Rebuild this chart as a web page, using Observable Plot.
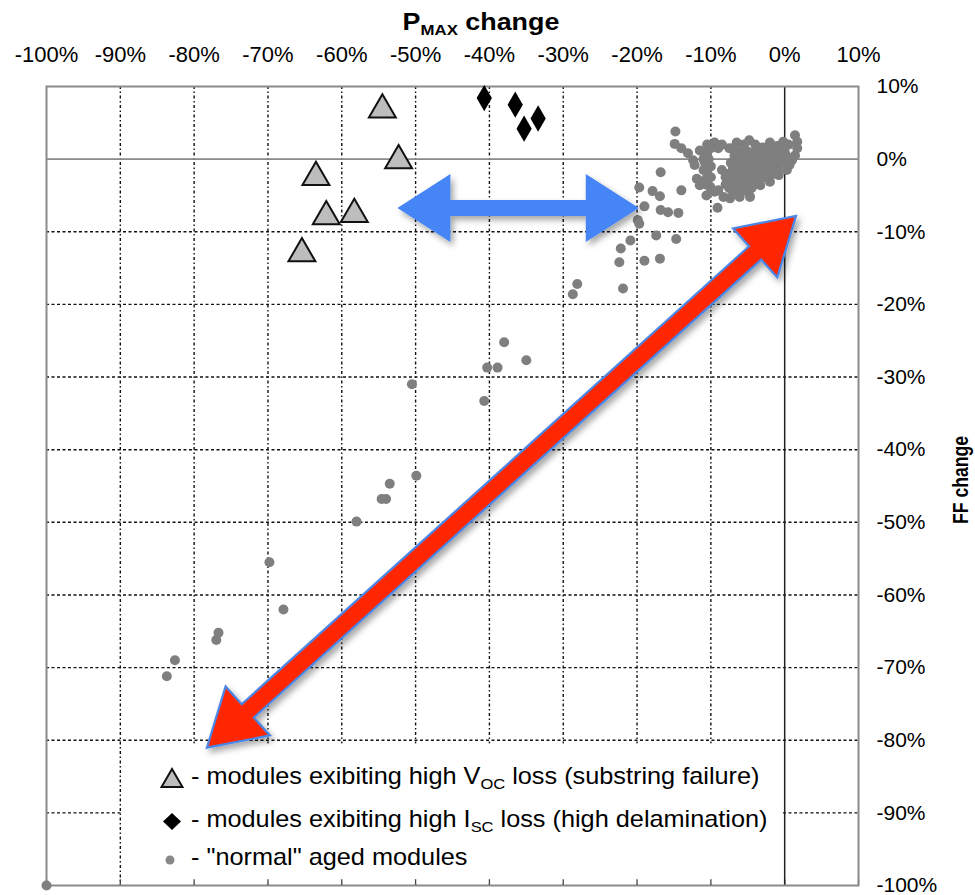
<!DOCTYPE html>
<html><head><meta charset="utf-8">
<script src="https://cdn.jsdelivr.net/npm/d3@7"></script>
<script src="https://cdn.jsdelivr.net/npm/@observablehq/plot@0.6"></script>
<style>
body{margin:0;background:#fff;}
svg{display:block;}
</style>
</head><body><div id="chart"></div>
<script>
// ---- data ----
const xTicks = [-100, -90, -80, -70, -60, -50, -40, -30, -20, -10, 0, 10];
const yTicks = [-100, -90, -80, -70, -60, -50, -40, -30, -20, -10, 0, 10];

// modules exhibiting high Voc loss (substring failure): [Pmax change %, FF change %]
const substringFailure = [[-54.5, 6.8], [-52.3, -0.2], [-63.5, -2.5], [-62.1, -7.9], [-58.3, -7.6], [-65.4, -13.0]];

// modules exhibiting high Isc loss (high delamination)
const delamination = [[-40.7, 8.4], [-36.5, 7.5], [-33.4, 5.6], [-35.3, 4.2]];

// "normal" aged modules
const normalModules = [
  [-100, -100],
  [-83.7, -71.2], [-82.6, -69.0], [-77.0, -66.2], [-76.7, -65.2], [-69.8, -55.5], [-67.9, -62.0],
  [-58.0, -49.9], [-54.6, -46.8], [-54.0, -46.8], [-53.5, -44.7], [-49.9, -43.6],
  [-50.5, -31.0], [-40.7, -33.3], [-40.3, -28.7], [-38.9, -28.7], [-38.0, -25.2], [-35.0, -27.7],
  [-28.7, -18.6], [-28.1, -17.2],
  [-22.4, -14.2], [-22.2, -12.3], [-21.9, -17.8], [-20.9, -11.2], [-19.9, -8.4], [-19.7, -8.9],
  [-19.7, -3.9], [-19.0, -6.5], [-19.0, -14.0],
  [-17.9, -4.4], [-17.4, -10.5], [-16.9, -5.1], [-16.9, -13.7], [-16.8, -7.0], [-16.8, -1.8],
  [-15.8, -7.3], [-14.4, -7.4], [-14.7, -11.0], [-14.0, -4.3], [-14.8, 3.8],
  [-14.9, 2.1], [-14.0, 1.5], [-13.1, 0.8], [-12.4, -0.15], [-12.2, -0.8],
  [-11.9, -2.7], [-11.5, -3.6], [-10.6, -5.0], [-10.1, -3.8], [-9.0, -4.3], [-8.3, -5.2],
  [-7.4, -5.4], [-6.1, -5.2], [-4.7, -5.2], [-3.3, -3.6], [-2.0, -3.1], [-0.8, -2.2], [0.3, -1.5], [-9.1, -6.7],
  [1.4, 3.3], [1.7, 2.4], [1.7, 1.5], [1.4, 0.5], [1.0, -0.15], [0.65, -0.8],
  [-11.5, 1.2], [-10.5, 2.0], [-9.5, 2.3], [-8.5, 2.0], [-7.5, 1.5], [-6.5, 2.3], [-5.5, 2.0],
  [-4.8, 2.6], [-4.0, 2.0], [-3.0, 1.6], [-2.0, 2.3], [-1.0, 1.8], [-0.2, 2.4], [0.5, 2.0],
  [-10.5, 1.0], [-6.0, 1.0], [-5.0, 1.0], [-4.0, 1.0], [-3.0, 1.0], [-2.0, 1.0], [-1.0, 1.0], [0.0, 1.0],
  [-11.0, 0.0], [-10.3, 0.0], [-6.5, 0.0], [-5.5, 0.0], [-4.5, 0.0], [-3.5, 0.0], [-2.5, 0.0],
  [-1.5, 0.0], [-0.5, 0.0], [0.3, 0.0],
  [-10.0, -1.0], [-7.0, -1.0], [-6.0, -1.0], [-5.0, -1.0], [-4.0, -1.0], [-3.0, -1.0], [-2.0, -1.0], [-1.0, -1.0],
  [-10.5, -2.0], [-7.5, -2.0], [-6.5, -2.0], [-5.5, -2.0], [-4.5, -2.0], [-3.5, -2.0], [-2.5, -2.0], [-1.5, -2.0],
  [-11.0, -3.0], [-7.0, -3.0], [-6.0, -3.0], [-5.0, -3.0], [-4.0, -3.0],
  [-10.0, -4.0], [-7.5, -4.0], [-6.5, -4.0], [-5.5, -4.0], [-4.5, -4.0],
  [-10.0, 1.5], [-9.0, 1.5], [-7.0, 1.5], [-5.5, 1.5], [-3.5, 1.5], [-2.5, 1.5], [-1.5, 1.5], [-0.5, 1.5],
  [-10.8, 0.5], [-6.8, 0.5], [-5.8, 0.5], [-4.8, 0.5], [-3.8, 0.5], [-2.8, 0.5], [-1.8, 0.5], [-0.8, 0.5], [0.2, 0.5],
  [-10.8, -0.5], [-7.3, -0.5], [-6.3, -0.5], [-5.3, -0.5], [-4.3, -0.5], [-3.3, -0.5], [-2.3, -0.5], [-1.3, -0.5], [-0.3, -0.5],
  [-11.0, -1.5], [-8.5, -1.5], [-7.0, -1.5], [-6.0, -1.5], [-5.0, -1.5], [-4.0, -1.5], [-3.0, -1.5], [-2.0, -1.5], [-1.0, -1.5],
  [-10.0, -2.5], [-8.0, -2.5], [-6.8, -2.5], [-5.8, -2.5], [-4.8, -2.5], [-3.8, -2.5], [-2.8, -2.5],
  [-10.7, -3.5], [-8.0, -3.5], [-7.0, -3.5], [-6.0, -3.5], [-5.0, -3.5], [-4.0, -3.5],
  [-9.5, -4.5], [-7.0, -4.5], [-6.0, -4.5], [-5.0, -4.5]
];

// annotation arrows (double headed), endpoints in data units
const arrowFrom = [[-52.4, -6.8], [-78.2, -81.1]];
const arrowTo = [[-19.7, -6.8], [1.6, -7.9]];

// ---- chart ----
const FONT = "'Liberation Sans', Arial, sans-serif";
const fmt = d => d + "%";
const plot = Plot.plot({
  width: 975,
  height: 895,
  marginTop: 86,
  marginLeft: 46,
  marginRight: 117,
  marginBottom: 10,
  style: {fontFamily: FONT, fontSize: "21px", color: "#000", background: "#fff"},
  x: {domain: [-100, 10], axis: "top", ticks: xTicks, tickFormat: fmt, tickSize: 0, tickPadding: 25, label: null},
  y: {domain: [-100, 10], axis: "right", ticks: yTicks, tickFormat: fmt, tickSize: 0, tickPadding: 18, label: null},
  marks: [
    Plot.ruleX(xTicks.filter(d => d > -100 && d < 10 && d !== 0), {stroke: "#111", strokeWidth: 1.4, strokeDasharray: "3,2.5,1.5,2.5"}),
    Plot.ruleY(yTicks.filter(d => d > -100 && d < 10 && d !== 0), {stroke: "#111", strokeWidth: 1.4, strokeDasharray: "3,2.5"}),
    Plot.rect([0], {x1: -89.7, x2: -0.3, y1: -80.5, y2: -99.8, fill: "#fff"}),
    Plot.ruleX(xTicks, {y1: -100, y2: -99.2, stroke: "#444", strokeWidth: 1.3}),
    Plot.ruleY([0], {stroke: "#8a8a8a", strokeWidth: 1.6}),
    Plot.ruleX([0], {stroke: "#222", strokeWidth: 1.5}),
    Plot.frame({stroke: "#8a8a8a", strokeWidth: 2}),
    Plot.dot(normalModules, {x: d => d[0], y: d => d[1], r: 5, fill: "#7f7f7f"}),
    Plot.dot(substringFailure, {x: d => d[0], y: d => d[1], symbol: "triangle", r: 10, fill: "#bdbdbd", stroke: "#111", strokeWidth: 2}),
    Plot.dot(delamination, {x: d => d[0], y: d => d[1], symbol: "diamond", r: 8, fill: "#000"})
  ]
});

const root = plot.tagName.toLowerCase() === "svg" ? plot : plot.querySelector("svg");
const svg = d3.select(root);
svg.selectAll("[aria-label='x-axis tick label'] text, g[aria-label='x-axis'] text").attr("font-size", 22);
const sx = plot.scale("x"), sy = plot.scale("y");

// drop shadow
const defs = svg.append("defs");
const f = defs.append("filter").attr("id", "shadow").attr("x", "-20%").attr("y", "-20%").attr("width", "140%").attr("height", "140%");
f.append("feDropShadow").attr("dx", 3).attr("dy", 4).attr("stdDeviation", 3).attr("flood-color", "#000").attr("flood-opacity", 0.35);

function arrowPath(p1, p2, headLen, headHalf, shaftHalf) {
  const dx = p2[0] - p1[0], dy = p2[1] - p1[1], L = Math.hypot(dx, dy);
  const u = [dx / L, dy / L], n = [-u[1], u[0]];
  const P = (base, a, b) => [base[0] + u[0] * a + n[0] * b, base[1] + u[1] * a + n[1] * b];
  const pts = [
    p1, P(p1, headLen, headHalf), P(p1, headLen, shaftHalf), P(p2, -headLen, shaftHalf), P(p2, -headLen, headHalf),
    p2, P(p2, -headLen, -headHalf), P(p2, -headLen, -shaftHalf), P(p1, headLen, -shaftHalf), P(p1, headLen, -headHalf)
  ];
  return "M" + pts.map(p => p[0].toFixed(1) + "," + p[1].toFixed(1)).join("L") + "Z";
}
const arrowStyles = [
  {fill: "#4485f5", stroke: "none", sw: 0, headLen: 53, headHalf: 34, shaftHalf: 8},
  {fill: "#ff2600", stroke: "#4a86e8", sw: 2.2, headLen: 55, headHalf: 33, shaftHalf: 9}
];
arrowFrom.forEach((a, i) => {
  const b = arrowTo[i], s = arrowStyles[i];
  const p1 = [sx.apply(a[0]), sy.apply(a[1])], p2 = [sx.apply(b[0]), sy.apply(b[1])];
  svg.append("path").attr("d", arrowPath(p1, p2, s.headLen, s.headHalf, s.shaftHalf))
    .attr("fill", s.fill).attr("stroke", s.stroke).attr("stroke-width", s.sw)
    .attr("stroke-linejoin", "miter").attr("filter", "url(#shadow)");
});

// titles
const title = svg.append("text").attr("transform", "translate(481,30) scale(1.12,1)").attr("text-anchor", "middle")
  .attr("font-family", FONT).attr("font-weight", "bold").attr("font-size", 24);
title.append("tspan").text("P");
title.append("tspan").attr("font-size", 15).attr("dy", 5).text("MAX");
title.append("tspan").attr("dy", -5).text(" change");

svg.append("text").attr("transform", "translate(968,480) rotate(-90) scale(0.8,1)").attr("text-anchor", "middle")
  .attr("font-family", FONT).attr("font-weight", "bold").attr("font-size", 22)
  .text("FF change");

// legend
const lg = svg.append("g").attr("font-family", FONT).attr("font-size", 23).attr("fill", "#000").attr("text-anchor", "start");
const lx = 172, tx = 191;
lg.append("path").attr("transform", `translate(${lx},781)`).attr("d", d3.symbol(d3.symbolTriangle2, 10 * 10 * Math.PI)())
  .attr("fill", "#bdbdbd").attr("stroke", "#111").attr("stroke-width", 2);
lg.append("path").attr("d", `M${lx},813L${lx + 9},821.5L${lx},830L${lx - 9},821.5Z`).attr("fill", "#000");
lg.append("circle").attr("cx", lx - 2).attr("cy", 860).attr("r", 4.5).attr("fill", "#888");

const t1 = lg.append("text").attr("transform", `translate(${tx},784) scale(1.1,1)`).attr("text-anchor", "start");
t1.append("tspan").text("- modules exibiting high V");
t1.append("tspan").attr("font-size", 15).attr("dy", 5).text("OC");
t1.append("tspan").attr("dy", -5).text(" loss (substring failure)");
const t2 = lg.append("text").attr("transform", `translate(${tx},827) scale(1.1,1)`).attr("text-anchor", "start");
t2.append("tspan").text("- modules exibiting high I");
t2.append("tspan").attr("font-size", 15).attr("dy", 5).text("SC");
t2.append("tspan").attr("dy", -5).text(" loss (high delamination)");
lg.append("text").attr("transform", `translate(${tx},865) scale(1.1,1)`).attr("text-anchor", "start").text("- \"normal\" aged modules");

document.getElementById("chart").appendChild(plot);
</script>
</body></html>
